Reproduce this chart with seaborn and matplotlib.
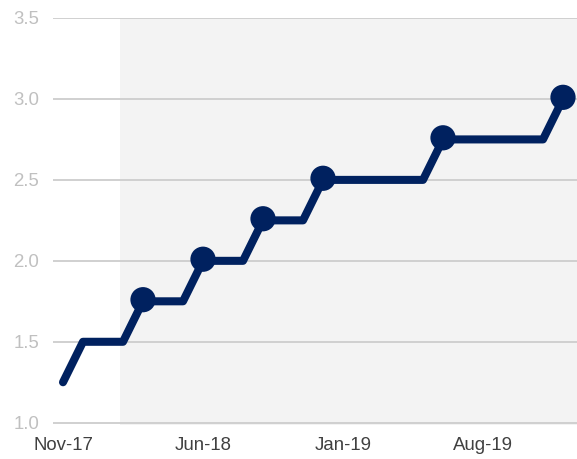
import numpy as np
import pandas as pd
import matplotlib
matplotlib.use("Agg")
import matplotlib.pyplot as plt
import seaborn as sns

# monthly path of the rate, Nov-17 .. Dec-19
months = ["Nov-17", "Dec-17", "Jan-18", "Feb-18", "Mar-18", "Apr-18", "May-18",
          "Jun-18", "Jul-18", "Aug-18", "Sep-18", "Oct-18", "Nov-18", "Dec-18",
          "Jan-19", "Feb-19", "Mar-19", "Apr-19", "May-19", "Jun-19", "Jul-19",
          "Aug-19", "Sep-19", "Oct-19", "Nov-19", "Dec-19"]
rate = [1.25, 1.5, 1.5, 1.5, 1.75, 1.75, 1.75,
        2.0, 2.0, 2.0, 2.25, 2.25, 2.25, 2.5,
        2.5, 2.5, 2.5, 2.5, 2.5, 2.75, 2.75,
        2.75, 2.75, 2.75, 2.75, 3.0]

# hike markers
hike_months = ["Mar-18", "Jun-18", "Sep-18", "Dec-18", "Jun-19", "Dec-19"]
hike_values = [1.76, 2.01, 2.26, 2.51, 2.76, 3.01]

tick_labels = ["Nov-17", "Jun-18", "Jan-19", "Aug-19"]
yticks = [1.0, 1.5, 2.0, 2.5, 3.0, 3.5]
shade_start = 2.85  # index where the shaded period begins

navy = "#00215F"

df = pd.DataFrame({"x": np.arange(len(months)), "rate": rate})
hikes = pd.DataFrame({"x": [months.index(m) for m in hike_months], "rate": hike_values})

sns.set_style("white")
plt.rcParams["font.family"] = ["Liberation Sans", "DejaVu Sans"]

fig = plt.figure(figsize=(5.77, 4.59), dpi=100)
ax = fig.add_axes([53 / 577, 1 - 425 / 459, 524 / 577, 407 / 459])

ax.axvspan(shade_start, len(months) + 1, color="#f3f3f3", zorder=0, lw=0)
for y in yticks:
    ax.axhline(y, color="#d0d0d0", lw=1.4, zorder=1)

sns.lineplot(data=df, x="x", y="rate", ax=ax, color=navy, lw=5.8,
             solid_capstyle="round", solid_joinstyle="round", zorder=3)
sns.scatterplot(data=hikes, x="x", y="rate", ax=ax, color=navy, s=330,
                edgecolor="none", zorder=4)

ax.set_xlim(-0.5, 25.7)
ax.set_ylim(0.986, 3.5)
ax.set_yticks(yticks)
ax.set_yticklabels([f"{v:.1f}" for v in yticks])
ax.set_xticks([months.index(m) for m in tick_labels])
ax.set_xticklabels(tick_labels)
ax.set_xlabel("")
ax.set_ylabel("")
ax.tick_params(axis="y", length=0, pad=10, labelsize=13.4, labelcolor="#c0c0c0")
ax.tick_params(axis="x", length=0, pad=9, labelsize=13.4, labelcolor="#404040")
for s in ax.spines.values():
    s.set_visible(False)
ax.grid(False)

fig.savefig("out.png", dpi=100)
